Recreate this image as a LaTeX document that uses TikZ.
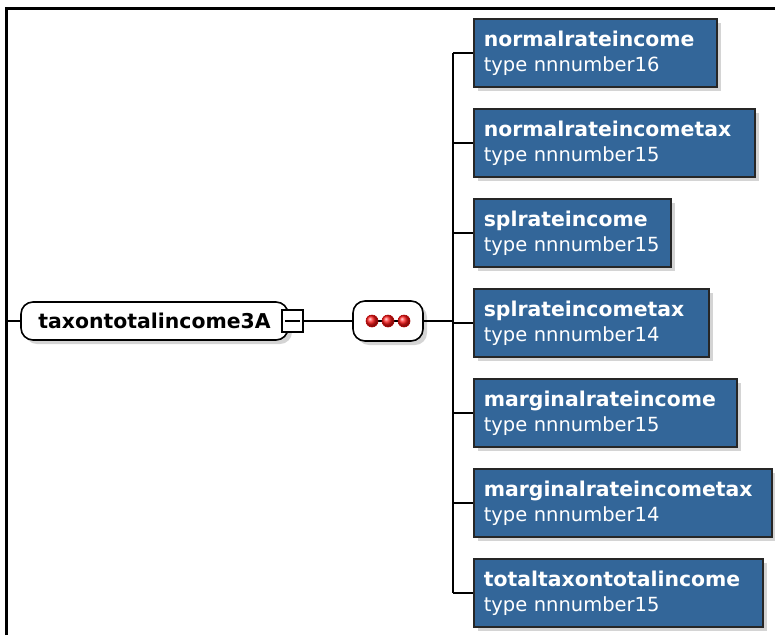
\documentclass[tikz,border=0pt]{standalone}
\usepackage{fontspec}
\setmainfont{DejaVu Sans}
\usetikzlibrary{shadows}
\definecolor{xsdblue}{RGB}{51,102,153}
\definecolor{shadowgray}{RGB}{170,170,170}
\newcommand{\ename}[1]{{\fontsize{20.4}{25}\selectfont\bfseries #1}}

\begin{document}
\begin{tikzpicture}
  [
    x=1pt, y=-1pt,
    line width=1.6pt,
    font=\fontsize{19.5}{25}\selectfont,
    shade/.style  = {drop shadow={shadow xshift=4pt, shadow yshift=-4pt, fill=shadowgray, opacity=0.5}},
    elem/.style   = {draw, fill=white, rounded corners=12pt, minimum width=267pt, minimum height=38pt, inner sep=0pt, shade},
    child/.style  = {draw=black!85, fill=xsdblue, text=white, anchor=north west, inner xsep=10pt, inner ysep=4pt,
                     minimum height=68pt, text width=#1, align=left, shade},
    seq/.style    = {draw, fill=white, rounded corners=12pt, minimum width=70pt, minimum height=40pt, inner sep=0pt, shade},
    minus/.style  = {draw, fill=white, minimum width=21pt, minimum height=22pt, inner sep=0pt},
    dot/.style    = {circle, shading=ball, ball color=red!90!white, draw=red!70!black, line width=0.6pt, minimum size=12pt, inner sep=0pt},
  ]
 \useasboundingbox (0,0) rectangle (775,635);

 % frame
 \draw [line width=3pt] (6.5,635) -- (6.5,8.5) -- (775,8.5);

 % root element and compositor
 \node (root) at (154.5,321) [elem] {\ename{taxontotalincome3A}};
 \node (mns)  at (292.5,321) [minus] {};
 \draw ([xshift=4pt]mns.west) -- ([xshift=-4pt]mns.east);
 \coordinate (in) at (8,321);
 \draw (in) -- (root.west);

 \node (seq) at (388,321) [seq] {};
 \draw [line width=1.2pt] (372,321) -- (404,321);
 \node (d1) at (372,321) [dot] {};
 \node (d2) at (388,321) [dot] {};
 \node (d3) at (404,321) [dot] {};
 \draw (mns.east) -- (seq.west);

 % children
 \node (nri)  at (473,18)  [child=223pt] {\ename{normalrateincome}\\type nnnumber16};
 \node (nrit) at (473,108) [child=261pt] {\ename{normalrateincometax}\\type nnnumber15};
 \node (sri)  at (473,198) [child=177pt] {\ename{splrateincome}\\type nnnumber15};
 \node (srit) at (473,288) [child=215pt] {\ename{splrateincometax}\\type nnnumber14};
 \node (mri)  at (473,378) [child=243pt] {\ename{marginalrateincome}\\type nnnumber15};
 \node (mrit) at (473,468) [child=278pt] {\ename{marginalrateincometax}\\type nnnumber14};
 \node (ttti) at (473,558) [child=269pt] {\ename{totaltaxontotalincome}\\type nnnumber15};

 \coordinate (bus) at (453,321);
 \draw (seq.east) -- (bus);
 \draw (bus |- nri.west) -- (bus |- ttti.west);
 \foreach \c in {nri, nrit, sri, srit, mri, mrit, ttti}
   \draw (bus |- \c.west) -- (\c.west);

\end{tikzpicture}
\end{document}
